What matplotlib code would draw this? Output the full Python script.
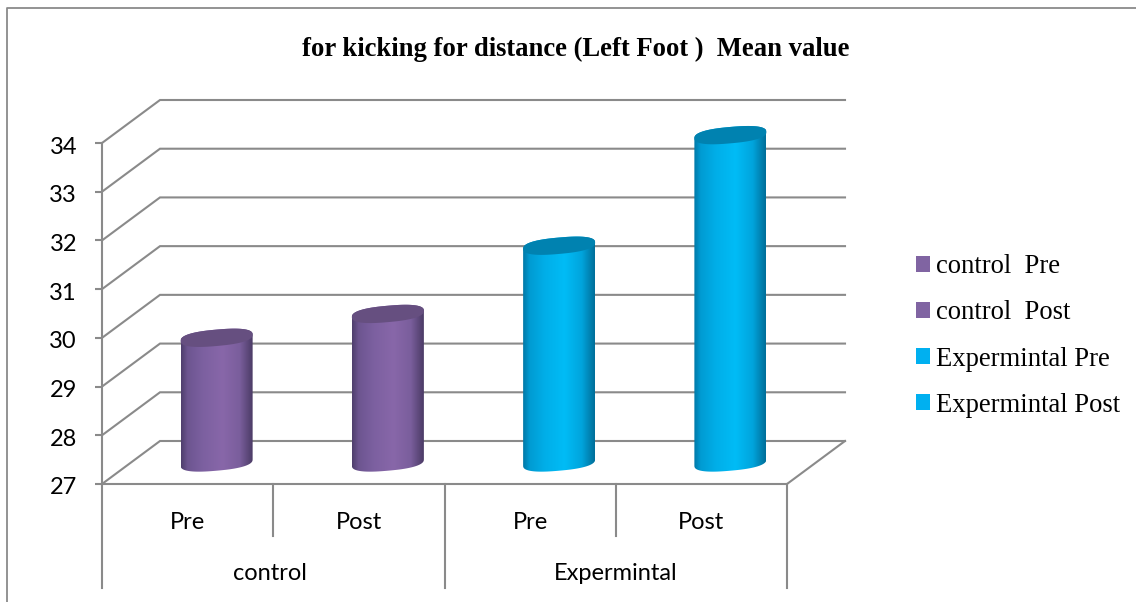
import numpy as np
import matplotlib
matplotlib.use('Agg')
import matplotlib.pyplot as plt
from matplotlib.colors import LinearSegmentedColormap
from matplotlib.lines import Line2D
from matplotlib.patches import Patch, PathPatch
from matplotlib.path import Path
from matplotlib.transforms import Affine2D, IdentityTransform

TITLE = 'for kicking for distance (Left Foot )  Mean value'
sub_labels = ['Pre', 'Post', 'Pre', 'Post']
group_labels = ['control', 'Expermintal']
series_names = ['control  Pre', 'control  Post', 'Expermintal Pre', 'Expermintal Post']
values = [29.56, 30.05, 31.45, 33.72]
y_ticks = [27, 28, 29, 30, 31, 32, 33, 34]

W, H = 1136, 602
GREY = '#8a8a8a'
DEPTH = (58, 43)
PURPLE = ['#4f3f6d', '#6d5590', '#7c60a0', '#8867a9', '#7a5e9c', '#4b3b66']
BLUE = ['#0079a8', '#009bd2', '#00aee8', '#00bcf6', '#00a4dc', '#006f9a']
STOPS = [0.0, 0.09, 0.3, 0.58, 0.82, 1.0]
TOP_PURPLE = '#664f80'
TOP_BLUE = '#0082b0'
colors = [PURPLE, PURPLE, BLUE, BLUE]
tops = [TOP_PURPLE, TOP_PURPLE, TOP_BLUE, TOP_BLUE]
legend_colors = ['#8064a2', '#8064a2', '#00b0f0', '#00b0f0']


def tilted_ellipse(cx, cy, a, b, t):
    # rounded ellipse in pixels, tilted a little like the office 3d cylinders
    ang = np.deg2rad(5)
    x = a * np.sign(np.cos(t)) * np.abs(np.cos(t)) ** 0.8
    y = b * np.sign(np.sin(t)) * np.abs(np.sin(t)) ** 0.8
    return np.column_stack([cx + x, cy + x * np.tan(ang) + y])


def draw_cylinder(ax, i, val, stops, top):
    off = Affine2D().translate(DEPTH[0] / 2, DEPTH[1] / 2)
    cx, y0 = (ax.transData + off).transform((i + 0.5, 27))
    _, y1 = (ax.transData + off).transform((i + 0.5, val))
    a, b = 36, 8.2
    t = np.linspace(0, 2 * np.pi, 120)
    # silhouette: upper half of top ellipse, lower half of base ellipse
    upper = tilted_ellipse(cx, y1, a, b, np.linspace(0, np.pi, 60))
    lower = tilted_ellipse(cx, y0, a, b, np.linspace(np.pi, 2 * np.pi, 60))
    body = Path(np.vstack([upper, lower, upper[:1]]))
    cmap = LinearSegmentedColormap.from_list('c', list(zip(STOPS, stops)))
    grad = np.linspace(0, 1, 200).reshape(1, -1)
    hw = a / (ax.transData.transform((1, 27)) - ax.transData.transform((0, 27)))[0]
    im = ax.imshow(grad, cmap=cmap, aspect='auto', zorder=3,
                   extent=(i + 0.5 - hw, i + 0.5 + hw, 27 - 0.4, val + 0.4),
                   transform=ax.transData + off)
    im.set_clip_box(fig.bbox)
    im.set_clip_path(PathPatch(body, transform=IdentityTransform()))
    ax.add_patch(PathPatch(Path(tilted_ellipse(cx, y1, a, b, t)), facecolor=top, edgecolor='none',
                           transform=IdentityTransform(), zorder=4, clip_on=False))


fig = plt.figure(figsize=(W / 100, H / 100), dpi=100, facecolor='white')
ax = fig.add_axes([102 / W, 1 - 484 / H, (787 - 102) / W, (484 - 143) / H])
ax.set_xlim(0, 4)
ax.set_ylim(27, 34)
ax.patch.set_visible(False)
for s in ['top', 'right']:
    ax.spines[s].set_visible(False)
for s in ['left', 'bottom']:
    ax.spines[s].set_color(GREY)
    ax.spines[s].set_linewidth(1.5)

ax.set_yticks(y_ticks)
ax.tick_params(axis='y', length=5, width=1.5, color=GREY, pad=13, labelsize=17, labelfontfamily='Lato')
for lab in ax.get_yticklabels():
    lab.set_transform(lab.get_transform() + Affine2D().translate(0, -2))
ax.set_xticks(np.arange(4) + 0.5)
ax.set_xticklabels(sub_labels, fontfamily='Lato', fontsize=17)
ax.tick_params(axis='x', length=0, pad=20)

# walls and floor
back = ax.transData + Affine2D().translate(*DEPTH)
for v in y_ticks:
    pts = np.array([ax.transData.transform((0, v)), back.transform((0, v)), back.transform((4, v))])
    ax.add_line(Line2D(pts[:, 0], pts[:, 1], color=GREY, lw=1.5, transform=IdentityTransform(),
                       clip_on=False, zorder=1, solid_joinstyle='miter'))
p0 = ax.transData.transform((4, 27))
p1 = back.transform((4, 27))
ax.add_line(Line2D([p0[0], p1[0]], [p0[1], p1[1]], color=GREY, lw=1.5, transform=IdentityTransform(),
                   clip_on=False, zorder=1))

for i, val in enumerate(values):
    draw_cylinder(ax, i, val, colors[i], tops[i])
ax.set_xlim(0, 4)
ax.set_ylim(27, 34)

# two level category axis
tr = ax.get_xaxis_transform()
for x, low in zip(range(5), [-0.304, -0.152, -0.304, -0.152, -0.304]):
    ax.plot([x, x], [0, low], color=GREY, lw=1.5, transform=tr, clip_on=False, zorder=1)
for x, g in zip([0.98, 3], group_labels):
    ax.text(x, -0.262, g, transform=tr, ha='center', va='center', fontfamily='Lato', fontsize=17)

fig.text(576 / W, 1 - 49 / H, TITLE, ha='center', va='center', fontfamily='Liberation Serif',
         fontweight='bold', fontsize=19.2)

# frame around the chart area
fig.add_artist(Line2D([7 / W, 7 / W, 1], [0, 1 - 8 / H, 1 - 8 / H], color=GREY, lw=1.3))

handles = [Patch(facecolor=c, edgecolor='none') for c in legend_colors]
fig.legend(handles, series_names, loc='center left', bbox_to_anchor=(916 / W, 1 - 336 / H), frameon=False,
           prop={'family': 'Liberation Serif', 'size': 19.2}, handlelength=0.52, handleheight=0.52,
           handletextpad=0.22, labelspacing=0.79, borderpad=0, borderaxespad=0)

fig.savefig('out.png', dpi=100)
